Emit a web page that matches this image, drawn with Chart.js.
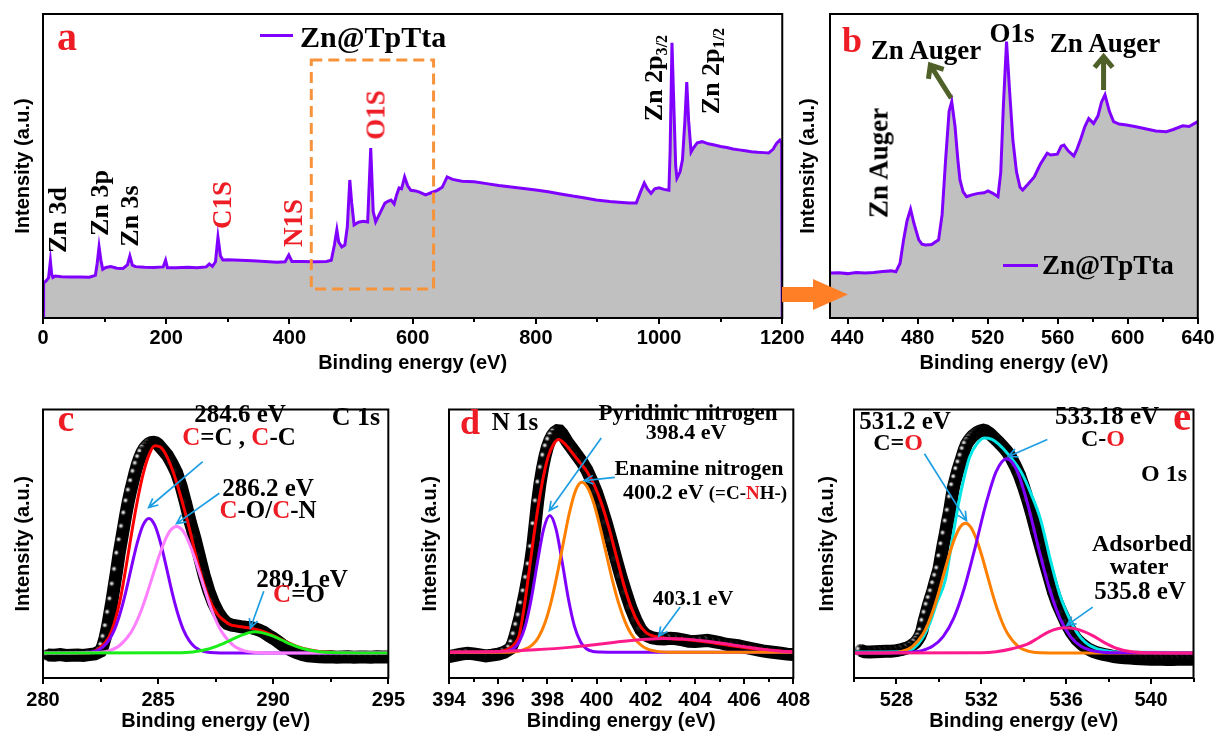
<!DOCTYPE html>
<html>
<head>
<meta charset="utf-8">
<script src="https://cdn.jsdelivr.net/npm/chart.js@4.4.0/dist/chart.umd.min.js"></script>
<style>
  body { margin: 0; background: #fff; }
  #stage { position: relative; width: 1221px; height: 733px; overflow: hidden; background: #fff; }
  #stage canvas { position: absolute; }
  .n { position: absolute; transform: translate(-50%, -50%); font: bold 25px 'Liberation Serif', 'Times New Roman', serif;
       white-space: nowrap; line-height: 1; color: #000; z-index: 3; }
  .v { transform: translate(-50%, -50%) rotate(-90deg); }
  .l { transform: translate(0, -50%); }
  .r { color: #ee1c25; }
  .n sub { font-size: 0.62em; vertical-align: -0.3em; line-height: 0; }
  .ln { position: absolute; height: 3px; background: #8000ff; z-index: 3; }
  svg { position: absolute; left: 0; top: 0; z-index: 4; }
</style>
</head>
<body>
<div id="stage">
  <!-- panel a -->
  <div class="n r" style="left:67px;top:37px;font-size:40px">a</div>
  <div class="ln" style="left:260px;top:34px;width:33px"></div>
  <div class="n l" style="left:300px;top:37px;font-size:30px">Zn@TpTta</div>
  <div class="n v" style="left:58px;top:220px;font-size:26px">Zn 3d</div>
  <div class="n v" style="left:100px;top:203px;font-size:26px">Zn 3p</div>
  <div class="n v" style="left:130px;top:216px;font-size:26px">Zn 3s</div>
  <div class="n v r" style="left:222px;top:205px;font-size:27px">C1S</div>
  <div class="n v r" style="left:293px;top:223px;font-size:27px">N1S</div>
  <div class="n v r" style="left:376px;top:115px;font-size:27px">O1S</div>
  <div class="n v" style="left:654px;top:78px;font-size:26px">Zn 2p<sub>3/2</sub></div>
  <div class="n v" style="left:711px;top:71px;font-size:26px">Zn 2p<sub>1/2</sub></div>

  <!-- panel b -->
  <div class="n r" style="left:852px;top:40px;font-size:36px">b</div>
  <div class="n" style="left:926px;top:50px;font-size:27px">Zn Auger</div>
  <div class="n" style="left:1012px;top:33px;font-size:27px">O1s</div>
  <div class="n" style="left:1105px;top:43px;font-size:27px">Zn Auger</div>
  <div class="n v" style="left:879px;top:163px;font-size:27px">Zn Auger</div>
  <div class="ln" style="left:1003px;top:264px;width:35px"></div>
  <div class="n l" style="left:1042px;top:265px;font-size:27px">Zn@TpTta</div>

  <!-- panel c -->
  <div class="n r" style="left:66px;top:418px;font-size:38px">c</div>
  <div class="n" style="left:240px;top:413px">284.6 eV</div>
  <div class="n" style="left:239px;top:436px"><span class="r">C</span>=C , <span class="r">C</span>-C</div>
  <div class="n" style="left:356px;top:417px;font-size:26px">C 1s</div>
  <div class="n" style="left:268px;top:487px">286.2 eV</div>
  <div class="n" style="left:268px;top:509px"><span class="r">C</span>-O/<span class="r">C</span>-N</div>
  <div class="n" style="left:302px;top:578px">289.1 eV</div>
  <div class="n" style="left:299px;top:593px"><span class="r">C</span>=O</div>

  <!-- panel d -->
  <div class="n r" style="left:470px;top:422px;font-size:36px">d</div>
  <div class="n" style="left:515px;top:421px">N 1s</div>
  <div class="n" style="left:688px;top:412px;font-size:23px">Pyridinic nitrogen</div>
  <div class="n" style="left:686px;top:432px;font-size:22px">398.4 eV</div>
  <div class="n" style="left:699px;top:468px;font-size:22px">Enamine nitrogen</div>
  <div class="n l" style="left:623px;top:492px;font-size:22px">400.2 eV <span style="font-size:19px">(=C-<span class="r">N</span>H-)</span></div>
  <div class="n" style="left:693px;top:598px;font-size:22px">403.1 eV</div>

  <!-- panel e -->
  <div class="n r" style="left:1182px;top:416px;font-size:41px">e</div>
  <div class="n" style="left:905px;top:420px">531.2 eV</div>
  <div class="n" style="left:898px;top:442px;font-size:24px">C=<span class="r">O</span></div>
  <div class="n" style="left:1107px;top:415px">533.18 eV</div>
  <div class="n" style="left:1103px;top:438px;font-size:24px">C-<span class="r">O</span></div>
  <div class="n" style="left:1164px;top:473px;font-size:24px">O 1s</div>
  <div class="n" style="left:1142px;top:543px;font-size:24px">Adsorbed</div>
  <div class="n" style="left:1139px;top:566px;font-size:24px">water</div>
  <div class="n" style="left:1140px;top:590px">535.8 eV</div>

  <svg width="1221" height="733">
    <polygon points="782,287 813,287 813,279 848,294.5 813,310 813,302 782,302" fill="#ff7f27"/>
  </svg>
</div>

<script>
// ---- data (binding energy eV, intensity a.u. on a 0-100 frame) ----
const surveyTicks = [0, 200, 400, 600, 800, 1000, 1200];
const surveyMinor = [100, 300, 500, 700, 900, 1100];
const survey = [
  [0, 0], [1, 11.5], [5, 12.2], [9, 13.2], [12, 18.8], [14, 14.5], [16, 13.3], [20, 13.8], [30, 13.6],
  [45, 13.5], [60, 13.5], [75, 13.4], [85, 14.0], [88, 18], [91, 23.4], [94, 19], [97, 16], [102, 16.6],
  [110, 16.9], [120, 16.4], [130, 16.3], [137, 17.5], [141, 20.4], [145, 17.4], [150, 16.9], [165, 16.7],
  [180, 16.6], [195, 16.8], [199, 19.0], [202, 16.5], [215, 16.5], [235, 16.7], [250, 16.5], [265, 16.8],
  [270, 17.8], [275, 17.0], [280, 18.5], [284, 26.6], [288, 20.5], [292, 19.1], [300, 19.2], [320, 19.0],
  [340, 18.8], [360, 18.6], [380, 18.3], [393, 18.5], [399, 20.7], [404, 18.6], [420, 18.6], [440, 18.5],
  [460, 18.6], [468, 19.0], [473, 24], [477, 29], [480, 25], [485, 23.4], [490, 24], [494, 30], [498, 45.4],
  [501, 38], [505, 30.6], [512, 31.5], [520, 31.8], [527, 31.6], [532, 55.9], [536, 35], [540, 31.6],
  [547, 34.5], [555, 37.8], [560, 38.4], [565, 38.8], [570, 37.5], [574, 40.5], [578, 42.8], [582, 42.5],
  [587, 46.4], [592, 43.5], [597, 42.0], [605, 41.8], [612, 41.3], [621, 40.5], [630, 41.2], [640, 42],
  [648, 43], [656, 46.4], [665, 45.6], [680, 45.0], [700, 44.8], [720, 44.2], [740, 43.6], [760, 43.1],
  [780, 42.6], [800, 42.1], [820, 41.5], [840, 40.8], [860, 40.1], [880, 39.5], [898, 38.8], [920, 38.3],
  [940, 38.0], [952, 37.8], [963, 37.8], [970, 41.5], [976, 44.4], [981, 42.5], [987, 41.0], [993, 42.5],
  [1000, 42.8], [1008, 42.3], [1016, 42.0], [1018, 55], [1021, 90.5], [1024, 70], [1027, 50], [1029, 46],
  [1034, 48], [1038, 52], [1042, 65], [1045, 77.6], [1048, 65], [1052, 54.6], [1056, 56], [1062, 57.6],
  [1070, 58.0], [1080, 57.3], [1090, 56.9], [1100, 56.4], [1110, 56.1], [1120, 55.6], [1130, 55.3],
  [1140, 55.0], [1150, 54.7], [1160, 54.5], [1170, 54.4], [1178, 54.3], [1185, 55.5], [1191, 57.5],
  [1196, 58.5], [1199, 57.5], [1200, 0]
];

const augerTicks = [440, 480, 520, 560, 600, 640];
const augerMinor = [460, 500, 540, 580, 620];
const auger = [
  [430, 14.8], [435, 14.9], [440, 14.6], [445, 15.0], [450, 14.8], [455, 15.0], [460, 15.3], [465, 15.5],
  [467.6, 15.2], [470, 18], [472, 25.7], [474, 32], [476, 35.8], [478, 31], [480.7, 25.7], [482.5, 24.3],
  [484.5, 24], [488, 24.2], [492, 25.7], [494, 34], [496, 52], [498, 68], [499.5, 71.2], [501.4, 62.9],
  [503, 52], [504.2, 45.4], [506, 41.5], [508, 39.9], [511, 40.5], [514.6, 41], [518, 41.2], [520.2, 41.8],
  [523, 41], [525.9, 39.9], [527.5, 48], [529, 70], [530.8, 90.9], [532.5, 75], [534.4, 58.6], [536.5, 48],
  [538.5, 43], [540, 42.1], [543, 44], [546.6, 46.4], [550, 50.5], [554, 54.2], [556, 53.6], [559.8, 53.9],
  [562, 56.5], [563.6, 56.9], [566, 55], [569.2, 53.3], [571, 55.5], [573, 58.6], [575.5, 63], [577.7, 65.6],
  [580.5, 64], [583, 66.5], [585, 71], [587, 73.4], [589.5, 68], [591.9, 64.6], [595, 63.8], [599.3, 63.5],
  [604, 63], [608.7, 62.4], [612, 62.0], [616, 61.5], [622, 61.3], [626, 62], [631.4, 63.2], [635, 63.0],
  [640, 64.6]
];

const c1sTicks = [280, 285, 290, 295];
const c1sMinor = [282.5, 287.5, 292.5];
const c1sRaw = [
  [280.2, 8.6], [280.5, 8.5], [280.75, 8.7], [281, 8.4], [281.25, 8.5], [281.5, 8.6], [281.75, 8.4],
  [282, 8.7], [282.25, 9.0], [282.5, 10.0], [282.6, 12.0], [282.7, 15.0], [282.8, 19.0], [282.9, 24.0],
  [283.0, 29.0], [283.1, 34.5], [283.2, 40.0], [283.3, 46.0], [283.4, 51.0], [283.5, 56.0], [283.6, 61.0],
  [283.7, 65.5], [283.8, 69.5], [283.9, 73.0], [284.0, 76.5], [284.1, 79.5], [284.2, 82.0], [284.3, 84.0],
  [284.4, 85.5], [284.5, 86.5], [284.6, 87.3], [284.7, 87.7], [284.8, 87.8], [284.9, 87.6], [285.0, 87.0],
  [285.2, 85.0], [285.4, 83.0], [285.6, 80.0], [285.8, 76.5], [286.0, 71.5], [286.2, 65.0], [286.4, 58.0],
  [286.6, 52.0], [286.8, 45.0], [287.0, 38.2], [287.2, 32.5], [287.4, 28.0], [287.6, 24.5], [287.8, 22.0],
  [288.0, 20.3], [288.2, 19.7], [288.4, 19.4], [288.6, 19.1], [288.8, 18.9], [289.0, 18.8], [289.2, 18.4],
  [289.4, 17.8], [289.6, 17.0], [289.8, 15.8], [290.0, 14.8], [290.2, 13.6], [290.4, 12.3], [290.6, 11.2],
  [290.8, 10.3], [291.0, 9.5], [291.25, 8.8], [291.5, 8.3], [291.75, 8.1], [292, 7.9], [292.25, 7.8],
  [292.5, 7.9], [292.75, 7.7], [293, 7.8], [293.25, 7.9], [293.5, 7.7], [293.75, 7.8], [294, 7.8],
  [294.25, 7.7], [294.5, 7.9], [294.75, 7.8], [295, 7.8]
];
const c1sFit = [
  [280, 9.3], [282, 9.4], [282.5, 11.5], [282.85, 15], [283.1, 20.5], [283.35, 29], [283.6, 41], [283.85, 54],
  [284.1, 66], [284.35, 76], [284.6, 83], [284.85, 86.5], [285.1, 86], [285.35, 83], [285.6, 78], [285.85, 71.5],
  [286.1, 64], [286.35, 56], [286.6, 47], [286.85, 39], [287.1, 32], [287.35, 27], [287.6, 23.5], [287.85, 21.5],
  [288.1, 20], [288.5, 19.2], [289, 18.6], [289.5, 17.5], [290, 15.8], [290.5, 13.7], [291, 11.9], [291.5, 10.6],
  [292, 9.9], [292.5, 9.6], [295, 9.3]
];
const c1sCC = [
  [280, 9.3], [282.1, 9.7], [282.6, 11.5], [282.85, 13.9], [283.1, 17.9], [283.35, 24.1], [283.6, 32.2],
  [283.85, 41.6], [284.1, 50.5], [284.35, 57.0], [284.6, 59.4], [284.85, 57.0], [285.1, 50.5], [285.35, 41.6],
  [285.6, 32.2], [285.85, 24.1], [286.1, 17.9], [286.35, 13.9], [286.6, 11.5], [287.1, 9.7], [288, 9.3], [295, 9.3]
];
const c1sCO = [
  [280, 9.3], [282.3, 9.5], [282.8, 10.0], [283.3, 11.9], [283.8, 16.7], [284.05, 20.7], [284.3, 25.9],
  [284.55, 32.2], [284.8, 39.0], [285.05, 45.6], [285.3, 51.3], [285.55, 55.1], [285.8, 56.4], [286.05, 55.1],
  [286.3, 51.3], [286.55, 45.6], [286.8, 39.0], [287.05, 32.2], [287.3, 25.9], [287.55, 20.7], [287.8, 16.7],
  [288.3, 11.9], [288.8, 10.0], [289.3, 9.5], [290.5, 9.3], [295, 9.3]
];
const c1sCdO = [
  [280, 9.3], [286, 9.4], [286.5, 9.7], [287, 10.4], [287.5, 11.7], [288, 13.5], [288.5, 15.5], [289, 17.0],
  [289.2, 17.2], [289.5, 16.9], [290, 15.6], [290.5, 13.6], [291, 11.8], [291.5, 10.5], [292, 9.8],
  [292.5, 9.5], [295, 9.3]
];

const n1sTicks = [394, 396, 398, 400, 402, 404, 406, 408];
const n1sMinor = [395, 397, 399, 401, 403, 405, 407];
const n1sRaw = [
  [394, 8.0], [394.25, 8.4], [394.5, 8.9], [394.75, 9.2], [395, 9.0], [395.25, 8.6], [395.5, 8.2],
  [395.75, 8.5], [396, 8.9], [396.25, 9.6], [396.5, 11.0], [396.6, 13.0], [396.7, 16.0], [396.8, 19.5],
  [396.9, 23.0], [397.0, 27.5], [397.1, 32.0], [397.2, 37.0], [397.3, 42.0], [397.4, 48.5], [397.5, 57.0],
  [397.6, 65.5], [397.7, 72.5], [397.8, 78.0], [397.9, 82.5], [398.0, 86.0], [398.1, 88.5], [398.2, 90.3],
  [398.3, 91.5], [398.4, 92.1], [398.5, 92.0], [398.6, 91.0], [398.7, 89.5], [398.8, 88.0], [399.0, 85.5],
  [399.2, 83.0], [399.4, 80.5], [399.6, 77.5], [399.8, 73.5], [400.0, 69.0], [400.2, 63.5], [400.4, 57.5],
  [400.6, 51.0], [400.8, 44.0], [401.0, 37.5], [401.2, 31.5], [401.4, 26.0], [401.6, 21.5], [401.8, 18.0],
  [402.0, 16.0], [402.25, 15.0], [402.5, 14.6], [402.75, 14.5], [403, 14.8], [403.25, 14.6], [403.5, 14.2],
  [403.75, 13.7], [404, 13.6], [404.25, 13.8], [404.5, 14.0], [404.75, 13.6], [405, 13.2], [405.25, 12.6],
  [405.5, 12.3], [405.75, 12.0], [406, 11.5], [406.25, 11.0], [406.5, 10.6], [406.75, 10.1], [407, 9.8],
  [407.25, 9.5], [407.5, 9.2], [407.75, 8.9], [408, 8.7]
];
const n1sFit = [
  [394, 9.6], [396, 9.8], [396.4, 10.8], [396.65, 12.5], [396.85, 15.8], [397.05, 26], [397.25, 39.3],
  [397.45, 53], [397.65, 65.3], [397.85, 75.5], [398.05, 82.9], [398.25, 87], [398.45, 88.8], [398.7, 87.3],
  [399.0, 84], [399.3, 80.5], [399.6, 77], [399.9, 72], [400.2, 65], [400.5, 56], [400.8, 45.5], [401.1, 35],
  [401.4, 26.5], [401.7, 20.5], [402.0, 17], [402.4, 15.4], [402.8, 14.8], [403.5, 14.4], [404.5, 13.4],
  [405.5, 12], [406.5, 10.8], [407.5, 10.0], [408, 9.8]
];
const n1sPyridinic = [
  [394, 9.6], [396.1, 9.7], [396.35, 9.9], [396.6, 10.8], [396.85, 13.4], [397.1, 19.3], [397.35, 29.7],
  [397.6, 43.3], [397.85, 55.5], [398.1, 60.5], [398.35, 55.5], [398.6, 43.3], [398.85, 29.7], [399.1, 19.3],
  [399.35, 13.4], [399.6, 10.8], [399.85, 9.9], [400.1, 9.7], [401, 9.6], [408, 9.6]
];
const n1sEnamine = [
  [394, 9.6], [396.4, 9.6], [396.9, 10.1], [397.4, 12.4], [397.65, 15.4], [397.9, 20.5], [398.15, 28.3],
  [398.4, 38.6], [398.65, 50.4], [398.9, 61.7], [399.15, 69.9], [399.4, 72.9], [399.65, 70.7], [399.9, 64.7],
  [400.15, 55.9], [400.4, 46.0], [400.65, 36.2], [400.9, 27.8], [401.15, 21.2], [401.4, 16.5], [401.9, 11.6],
  [402.4, 10.0], [403, 9.6], [408, 9.6]
];
const n1sHigh = [
  [394, 9.6], [396, 9.9], [397.5, 10.5], [399, 11.5], [400, 12.5], [401, 13.6], [402, 14.4], [402.7, 14.7],
  [403.5, 14.5], [404.5, 13.7], [405.5, 12.4], [406.5, 11.0], [407.5, 10.0], [408, 9.7]
];

const o1sTicks = [528, 532, 536, 540];
const o1sMinor = [526, 530, 534, 538, 542];
const o1sRaw = [
  [526.3, 10.3], [526.5, 9.8], [526.75, 9.7], [527, 9.8], [527.25, 9.9], [527.5, 10.0], [527.75, 10.0],
  [528, 10.2], [528.25, 10.6], [528.5, 11.2], [528.7, 12.0], [528.9, 13.2], [529.0, 14.2], [529.1, 15.5],
  [529.2, 17.5], [529.3, 21.0], [529.4, 24.0], [529.5, 27.0], [529.6, 29.5], [529.7, 32.0], [529.8, 35.0],
  [529.9, 37.8], [530.0, 40.5], [530.1, 45.0], [530.2, 49.5], [530.3, 53.5], [530.4, 58.0], [530.5, 62.0],
  [530.6, 67.0], [530.7, 71.5], [530.8, 74.5], [530.9, 77.5], [531.0, 80.0], [531.1, 82.5], [531.2, 85.0],
  [531.3, 87.0], [531.4, 88.3], [531.5, 89.3], [531.6, 90.2], [531.7, 90.8], [531.8, 91.4], [531.9, 91.8],
  [532.0, 92.1], [532.1, 92.3], [532.2, 92.1], [532.4, 91.0], [532.6, 89.5], [532.8, 88.0], [533.0, 86.3],
  [533.2, 84.5], [533.4, 82.0], [533.6, 79.0], [533.8, 75.5], [534.0, 71.0], [534.2, 66.0], [534.4, 60.5],
  [534.6, 54.5], [534.8, 48.8], [535.0, 43.0], [535.2, 37.5], [535.4, 32.0], [535.6, 27.5], [535.8, 24.0],
  [536.0, 20.5], [536.25, 17.0], [536.5, 14.3], [536.75, 12.5], [537, 11.0], [537.25, 10.0], [537.5, 9.3],
  [537.75, 8.8], [538, 8.4], [538.25, 8.0], [538.5, 7.7], [538.75, 7.5], [539, 7.4], [539.25, 7.3],
  [539.5, 7.2], [539.75, 7.1], [540, 7.0], [540.25, 7.0], [540.5, 7.0], [540.75, 6.9], [541, 6.9],
  [541.25, 7.0], [541.5, 7.0], [541.75, 7.0], [542, 7.0]
];
const o1sFit = [
  [526, 9.7], [528.3, 9.8], [528.8, 11], [529.2, 14.5], [529.6, 21], [529.9, 28], [530.3, 36.4], [530.6, 50],
  [530.92, 64.7], [531.2, 75], [531.45, 82.3], [531.8, 87.3], [532.14, 89.4], [532.5, 88.9], [532.83, 87],
  [533.3, 83], [533.9, 76.4], [534.35, 68.5], [534.8, 58.8], [535.27, 43.5], [535.7, 31], [536.1, 23],
  [536.5, 17], [536.9, 13.3], [537.4, 11], [538, 10], [539, 9.6], [542, 9.5]
];
const o1sCdO = [
  [526, 9.3], [527.75, 9.4], [528.25, 9.9], [528.75, 11.7], [529.25, 16.4], [529.5, 20.4], [529.75, 25.7],
  [530.0, 32.1], [530.25, 39.2], [530.5, 46.2], [530.75, 52.1], [531.0, 56.2], [531.25, 57.6], [531.5, 56.2],
  [531.75, 52.1], [532.0, 46.2], [532.25, 39.2], [532.5, 32.1], [532.75, 25.7], [533.0, 20.4], [533.25, 16.4],
  [533.75, 11.7], [534.25, 9.9], [534.75, 9.4], [536, 9.3], [542, 9.3]
];
const o1sCO = [
  [526, 9.3], [528.2, 9.4], [528.7, 9.6], [529.2, 10.2], [529.7, 11.8], [530.2, 15.4], [530.7, 22.3],
  [531.2, 33.5], [531.7, 48.3], [532.2, 64.3], [532.7, 76.9], [533.2, 81.7], [533.7, 76.9], [534.2, 64.3],
  [534.7, 48.3], [535.2, 33.5], [535.7, 22.3], [536.2, 15.4], [536.7, 11.8], [537.2, 10.2], [537.7, 9.6],
  [538.2, 9.4], [542, 9.3]
];
const o1sWater = [
  [526, 9.3], [532, 9.4], [532.7, 9.8], [533.5, 11.0], [534.2, 12.7], [534.7, 15.0], [535.2, 17.3],
  [535.9, 18.7], [536.5, 18.2], [537.2, 16.0], [537.8, 13.2], [538.4, 11.0], [539, 9.9], [540, 9.4], [542, 9.3]
];

// annotation arrows, [fromX, fromY, toX, toY] in data units
const augerArrows = [[499.2, 72.3, 487.3, 83.2], [586.2, 75, 586.2, 86]];
const c1sArrows = [[286.94, 80.6, 284.59, 63.5], [287.66, 68.8, 285.8, 57.5], [289.59, 32.3, 289.01, 18.6]];
const n1sArrows = [[400.19, 89.4, 398.08, 62.3], [400.74, 74.7, 399.5, 73.5], [403.4, 26.4, 402.53, 15.6]];
const o1sArrows = [[529.32, 83.5, 531.3, 58.6], [535.11, 88.8, 533.28, 82.5], [537.25, 26.4, 536.03, 19.6]];
const zoomBox = [435.5, 9.5, 634, 84.9];

// ---- drawing ----
const SANS = "'Liberation Sans', Arial, sans-serif";
const VIOLET = '#8000ff';

// shiny black bead used for the measured points (highlight kept small, upper left)
function beadImage(shiny) {
  const c = document.createElement('canvas');
  c.width = 12; c.height = 12;
  const g = c.getContext('2d');
  const grad = g.createRadialGradient(3.3, 4.2, 0, 3.3, 4.2, 4.2);
  grad.addColorStop(0, shiny ? '#ffffff' : '#2a2a2a');
  grad.addColorStop(0.25, shiny ? '#c8c8c8' : '#151515');
  grad.addColorStop(0.6, '#111');
  grad.addColorStop(1, '#000');
  g.fillStyle = grad;
  g.beginPath();
  g.arc(6, 6, 5.8, 0, Math.PI * 2);
  g.fill();
  return c;
}
const BEAD = beadImage(true);
const BEAD_DARK = beadImage(false);

const xy = (pairs) => pairs.map((p) => ({ x: p[0], y: p[1] }));

function fitLine(pairs, color, order) {
  return { data: xy(pairs), borderColor: color, borderWidth: 3, pointRadius: 0,
           cubicInterpolationMode: 'monotone', fill: false, order };
}
function rawLine(pairs) {
  // drawn right to left; on falling flanks the dense beads hide each other's shine
  return {
    data: xy(pairs.slice().reverse()), borderColor: '#000', borderWidth: 13,
    pointRadius: 5.5, tension: 0, order: 9, clip: 0,
    pointStyle: (ctx) => {
      const d = ctx.dataset.data, i = ctx.dataIndex;
      const left = d[i + 1];
      return left && left.y > d[i].y + 1 ? BEAD_DARK : BEAD;
    }
  };
}
function surveyLine(pairs) {
  return { data: xy(pairs), borderColor: VIOLET, borderWidth: 3, pointRadius: 0, tension: 0,
           fill: 'start', backgroundColor: '#c0c0c0', order: 1 };
}

function arrow(ctx, x1, y1, x2, y2, hl, ang) {
  const t = Math.atan2(y2 - y1, x2 - x1);
  ctx.beginPath();
  ctx.moveTo(x1, y1);
  ctx.lineTo(x2, y2);
  ctx.moveTo(x2 - hl * Math.cos(t - ang), y2 - hl * Math.sin(t - ang));
  ctx.lineTo(x2, y2);
  ctx.lineTo(x2 - hl * Math.cos(t + ang), y2 - hl * Math.sin(t + ang));
  ctx.stroke();
}

const framePlugin = {
  id: 'frame',
  afterDraw(chart, args, o) {
    const { ctx, chartArea: a } = chart;
    const sx = chart.scales.x, sy = chart.scales.y;
    ctx.save();
    if (o.box) {
      const [x1, y1, x2, y2] = o.box;
      ctx.strokeStyle = '#f7933a';
      ctx.lineWidth = 3;
      ctx.setLineDash([11, 6]);
      const px1 = sx.getPixelForValue(x1), px2 = sx.getPixelForValue(x2);
      const py1 = sy.getPixelForValue(y1), py2 = sy.getPixelForValue(y2);
      ctx.strokeRect(px1, py2, px2 - px1, py1 - py2);
      ctx.setLineDash([]);
    }
    (o.arrows || []).forEach(([x1, y1, x2, y2]) => {
      ctx.strokeStyle = o.arrowColor;
      ctx.lineWidth = o.arrowWidth;
      ctx.lineJoin = 'miter';
      arrow(ctx, sx.getPixelForValue(x1), sy.getPixelForValue(y1),
            sx.getPixelForValue(x2), sy.getPixelForValue(y2), o.headLen, o.headAng);
    });
    ctx.strokeStyle = '#000';
    ctx.lineWidth = 2;
    ctx.strokeRect(a.left, a.top, a.right - a.left, a.bottom - a.top);
    const tick = (v, len) => {
      const px = Math.round(sx.getPixelForValue(v));
      ctx.beginPath();
      ctx.moveTo(px, a.bottom);
      ctx.lineTo(px, a.bottom + len);
      ctx.stroke();
    };
    o.major.forEach((v) => tick(v, 6));
    o.minor.forEach((v) => tick(v, 4));
    ctx.restore();
  }
};

function makePanel(box, xRange, majors, minors, datasets, frameOpts) {
  const PT = 4;
  const YW = box.gap + 15;
  const w = (box.R - box.L) + YW + box.PR;
  const h = (box.B - box.T) + PT + box.XH;
  const canvas = document.createElement('canvas');
  canvas.width = w;
  canvas.height = h;
  canvas.style.left = (box.L - YW) + 'px';
  canvas.style.top = (box.T - PT) + 'px';
  canvas.style.width = w + 'px';
  canvas.style.height = h + 'px';
  document.getElementById('stage').prepend(canvas);

  new Chart(canvas, {
    type: 'line',
    data: { datasets },
    plugins: [framePlugin],
    options: {
      responsive: false,
      animation: false,
      events: [],
      layout: { padding: { top: PT, right: box.PR, left: 0, bottom: 0 } },
      plugins: {
        legend: { display: false },
        tooltip: { enabled: false },
        frame: Object.assign({ major: majors, minor: minors }, frameOpts)
      },
      scales: {
        x: {
          type: 'linear',
          min: xRange[0],
          max: xRange[1],
          afterBuildTicks: (s) => { s.ticks = majors.map((v) => ({ value: v })); },
          afterFit: (s) => { s.height = box.XH; },
          grid: { display: false, drawTicks: false },
          border: { display: false },
          ticks: { color: '#000', autoSkip: false, maxRotation: 0, padding: box.tickPad,
                   font: { family: SANS, size: 20, weight: 'bold' }, callback: (v) => String(v) },
          title: { display: true, text: 'Binding energy (eV)', color: '#000', padding: { top: 0, bottom: 0 },
                   font: { family: SANS, size: 20, weight: 'bold' } }
        },
        y: {
          min: 0,
          max: 100,
          afterFit: (s) => { s.width = YW; },
          grid: { display: false, drawTicks: false },
          border: { display: false },
          ticks: { display: false },
          title: { display: true, text: 'Intensity (a.u.)', color: '#000', padding: { top: 3, bottom: 0 },
                   font: { family: SANS, size: 20, weight: 'bold' } }
        }
      }
    }
  });
}

const blueArrow = { arrowColor: '#1d9ee3', arrowWidth: 1.7, headLen: 10, headAng: 0.45 };

makePanel({ L: 43, T: 14, R: 787, B: 318, gap: 20, PR: 26, XH: 57, tickPad: 8.5 }, [0, 1200],
  surveyTicks, surveyMinor, [surveyLine(survey)], { box: zoomBox });

makePanel({ L: 830, T: 14, R: 1203, B: 318, gap: 22, PR: 20, XH: 57, tickPad: 8.5 }, [430, 640],
  augerTicks, augerMinor, [surveyLine(auger)],
  { arrows: augerArrows, arrowColor: '#4f6128', arrowWidth: 5, headLen: 14, headAng: 0.7 });

makePanel({ L: 43, T: 395, R: 393, B: 678, gap: 20, PR: 22, XH: 55, tickPad: 10 }, [280, 295],
  c1sTicks, c1sMinor,
  [rawLine(c1sRaw), fitLine(c1sFit, '#ff0000', 5), fitLine(c1sCC, VIOLET, 4),
   fitLine(c1sCO, '#ff80ff', 3), fitLine(c1sCdO, '#19ee19', 2)],
  Object.assign({ arrows: c1sArrows }, blueArrow));

makePanel({ L: 449, T: 395, R: 798, B: 678, gap: 19, PR: 22, XH: 55, tickPad: 10 }, [394, 408],
  n1sTicks, n1sMinor,
  [rawLine(n1sRaw), fitLine(n1sFit, '#ff0000', 5), fitLine(n1sPyridinic, VIOLET, 4),
   fitLine(n1sEnamine, '#ff8000', 3), fitLine(n1sHigh, '#ff1a8c', 2)],
  Object.assign({ arrows: n1sArrows }, blueArrow));

makePanel({ L: 854, T: 395, R: 1204, B: 678, gap: 27, PR: 8, XH: 55, tickPad: 10 }, [526, 542],
  o1sTicks, o1sMinor,
  [rawLine(o1sRaw), fitLine(o1sFit, '#00e6e6', 5), fitLine(o1sCdO, '#ff8000', 4),
   fitLine(o1sCO, VIOLET, 3), fitLine(o1sWater, '#ff1a8c', 2)],
  Object.assign({ arrows: o1sArrows }, blueArrow));
</script>
</body>
</html>
